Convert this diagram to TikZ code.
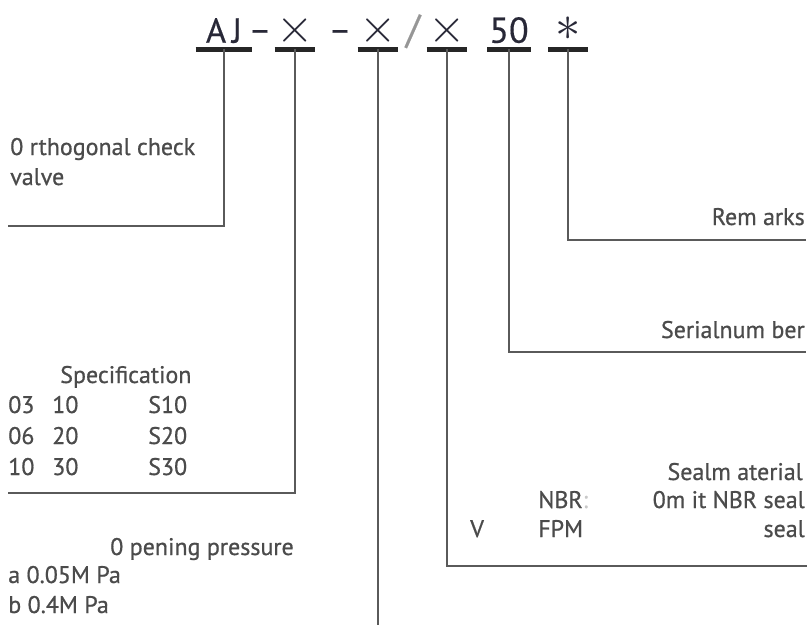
\documentclass[tikz,border=0pt]{standalone}
\usepackage{fix-cm}
\usepackage{fontspec}
\setmainfont{PT Sans}
\newfontfamily\lblfont[FakeBold=0.7]{PT Sans}
\newfontfamily\codefont[FakeBold=0.4]{PT Sans}
\newcommand{\cross}{{\fontsize{36}{36}\selectfont$\times$}}
\definecolor{codecol}{RGB}{40,40,55}
\definecolor{txtcol}{RGB}{75,75,75}
\definecolor{leadcol}{RGB}{90,90,90}
\definecolor{dimcol}{RGB}{200,200,200}
\definecolor{slashcol}{RGB}{150,150,150}

\begin{document}
\begin{tikzpicture}[
    x=0.75pt, y=-0.75pt,
    code/.style={anchor=south, inner xsep=0pt, inner ysep=4.5pt, text depth=0pt, text=codecol, font=\codefont\fontsize{26}{28}\selectfont},
    bar/.style={draw=black!85, line width=3.75pt},
    lead/.style={draw=leadcol, line width=1.5pt},
    lbl/.style={inner sep=0pt, text=txtcol, font=\lblfont\fontsize{18}{22.5}\selectfont}
]
\useasboundingbox (0,0) rectangle (811,625);

% Model code
\node[code, minimum width=42pt] (aj) at (224,49) {A\,J};
\node[code] (dashA) at (260,49) {\raisebox{1pt}{–}};
\node[code, minimum width=30pt] (spec) at (295,49) {\cross};
\node[code] (dashB) at (340,49) {\raisebox{1pt}{–}};
\node[code, minimum width=30pt] (press) at (378,49) {\cross};
\node[code, text=slashcol, font=\codefont\fontsize{30}{30}\selectfont] (slash) at (413,49) {/};
\node[code, minimum width=30pt] (seal) at (447,49) {\cross};
\node[code, minimum width=32pt, font=\codefont\fontsize{27}{28}\selectfont] (serial) at (509,49) {50};
\node[code, minimum width=29pt] (rem) at (568,49) {\raisebox{2pt}{\fontsize{38}{38}\selectfont$\ast$}};

\foreach \n in {aj,spec,press,seal,serial,rem}
    \draw[bar] (\n.south west) -- (\n.south east);

% Line ends
\coordinate (ajend) at (8,226);
\coordinate (specend) at (8,493);
\coordinate (pressend) at (378,625);
\coordinate (sealend) at (807,566);
\coordinate (serialend) at (806,352);
\coordinate (remend) at (806,240);

% Labels
\node[lbl, anchor=base west, align=left] (valve) at (10,185) {0 rthogonal check\\valve};
\node[lbl, anchor=base east] (remarks) at (805,225) {Rem arks};
\node[lbl, anchor=base east] (serialno) at (805,338) {Serialnum ber};
\node[lbl, anchor=base west] (spechead) at (60,383) {Specification};
\foreach \a/\b/\c [count=\i] in {03/10/S10, 06/20/S20, 10/30/S30} {
    \node[lbl, anchor=base west] (specA\i) at (8,382+31*\i) {\a};
    \node[lbl, anchor=base west] (specB\i) at (52,382+31*\i) {\b};
    \node[lbl, anchor=base west] (specC\i) at (148,382+31*\i) {\c};
}
\node[lbl, anchor=base east] (sealhead) at (803,480) {Sealm aterial};
\node[lbl, anchor=base west] (nbr) at (538,508) {NBR\textcolor{dimcol}{:}};
\node[lbl, anchor=base east] (nbrtxt) at (805,508) {0m it NBR seal};
\node[lbl, anchor=base west] (fpmcode) at (470,537) {V};
\node[lbl, anchor=base west] (fpm) at (538,537) {FPM};
\node[lbl, anchor=base east] (fpmtxt) at (805,537) {seal};
\node[lbl, anchor=base west] (presshead) at (110,555) {0 pening pressure};
\node[lbl, anchor=base west] (pressa) at (8,583) {a 0.05M Pa};
\node[lbl, anchor=base west] (pressb) at (8,613) {b 0.4M Pa};

% Leaders
\draw[lead] (aj.south) |- (ajend);
\draw[lead] (spec.south) |- (specend);
\draw[lead] (press.south) -- (pressend);
\draw[lead] (seal.south) |- (sealend);
\draw[lead] (serial.south) |- (serialend);
\draw[lead] (rem.south) |- (remend);

\end{tikzpicture}
\end{document}
